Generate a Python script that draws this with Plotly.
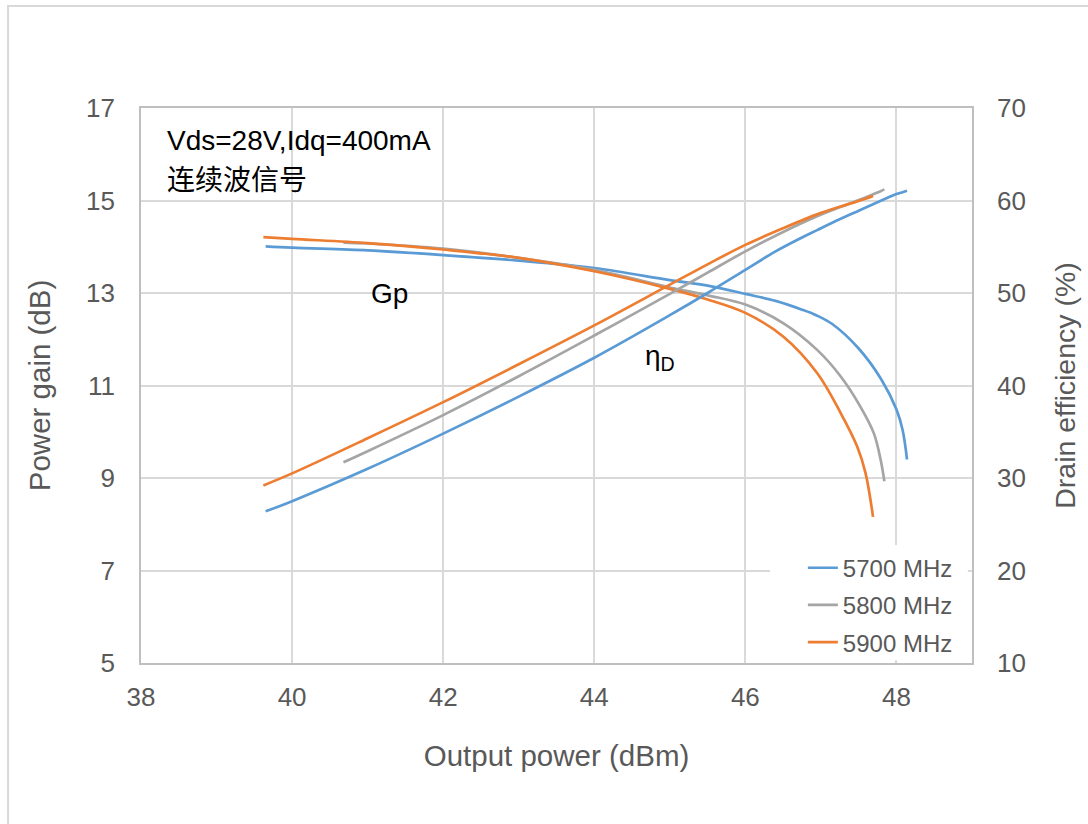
import plotly.graph_objects as go

# ---- data ----
series_names = ["5700 MHz", "5800 MHz", "5900 MHz"]

x_5700 = [39.65, 40.0, 41.0, 42.0, 43.0, 44.0, 45.0, 45.5, 46.0, 46.4, 46.75, 46.95, 47.15, 47.5, 47.8, 48.0, 48.08, 48.14]
gain_5700 = [14.01, 13.98, 13.92, 13.82, 13.70, 13.54, 13.28, 13.16, 12.98, 12.83, 12.64, 12.51, 12.33, 11.80, 11.13, 10.48, 10.05, 9.40]
eff_5700 = [26.4, 27.5, 31.0, 34.8, 38.8, 43.0, 47.6, 50.0, 52.5, 54.5, 56.0, 56.8, 57.6, 58.9, 60.0, 60.7, 60.9, 61.05]

x_5800 = [40.68, 41.0, 42.0, 43.0, 44.0, 45.0, 45.5, 46.0, 46.5, 46.95, 47.26, 47.52, 47.7, 47.79, 47.84]
gain_5800 = [14.09, 14.07, 13.96, 13.76, 13.50, 13.12, 12.95, 12.75, 12.35, 11.77, 11.20, 10.55, 9.97, 9.40, 8.93]
eff_5800 = [31.7, 32.9, 36.8, 41.0, 45.4, 49.9, 52.2, 54.5, 56.6, 58.3, 59.3, 60.1, 60.7, 61.0, 61.2]

x_5900 = [39.62, 40.0, 41.0, 42.0, 43.0, 44.0, 45.0, 45.5, 46.0, 46.5, 46.95, 47.26, 47.48, 47.59, 47.69]
gain_5900 = [14.21, 14.17, 14.08, 13.94, 13.76, 13.47, 13.09, 12.86, 12.57, 12.06, 11.27, 10.41, 9.68, 9.11, 8.16]
eff_5900 = [29.2, 30.5, 34.3, 38.2, 42.3, 46.5, 50.9, 53.1, 55.2, 57.0, 58.5, 59.35, 59.9, 60.2, 60.5]

x_ticks = [38, 40, 42, 44, 46, 48]
gain_ticks = [5, 7, 9, 11, 13, 15, 17]
eff_ticks = [10, 20, 30, 40, 50, 60, 70]

colors = ["#5B9BD5", "#A5A5A5", "#ED7D31"]
FONT = "Liberation Sans, Arial, Noto Sans CJK SC, sans-serif"
TXT = "#595959"
GRID = "#D9D9D9"

fig = go.Figure()
xs = [x_5700, x_5800, x_5900]
gains = [gain_5700, gain_5800, gain_5900]
effs = [eff_5700, eff_5800, eff_5900]
for name, c, x, g, e in zip(series_names, colors, xs, gains, effs):
    fig.add_trace(go.Scatter(x=x, y=g, mode="lines", name=name, legendgroup=name,
                             line=dict(color=c, width=2.7, shape="spline", smoothing=1.0),
                             yaxis="y", showlegend=True))
    fig.add_trace(go.Scatter(x=x, y=e, mode="lines", name=name, legendgroup=name,
                             line=dict(color=c, width=2.7, shape="spline", smoothing=1.0),
                             yaxis="y2", showlegend=False))

fig.update_layout(
    width=1088, height=824,
    margin=dict(l=141, r=116, t=108, b=161),
    paper_bgcolor="white", plot_bgcolor="white",
    font=dict(family=FONT, color=TXT, size=26),
    xaxis=dict(range=[38, 49], tickvals=x_ticks, showgrid=True, gridcolor=GRID, gridwidth=1.8,
               showline=True, linecolor="#BFBFBF", linewidth=1.8, mirror=True,
               zeroline=False, ticks="", ticklabelstandoff=10,
               tickfont=dict(size=26, color=TXT),
               title=dict(text="Output power (dBm)", font=dict(size=29.5, color=TXT), standoff=34)),
    yaxis=dict(range=[5, 17], tickvals=gain_ticks, showgrid=True, gridcolor=GRID, gridwidth=1.8,
               showline=True, linecolor="#BFBFBF", linewidth=1.8, mirror=True,
               zeroline=False, ticks="", ticklabelstandoff=19,
               tickfont=dict(size=26, color=TXT),
               title=dict(text="Power gain (dB)", font=dict(size=29.5, color=TXT), standoff=27)),
    yaxis2=dict(range=[10, 70], tickvals=eff_ticks, overlaying="y", side="right",
                showgrid=False, zeroline=False, showline=False, ticks="", ticklabelstandoff=24,
                tickfont=dict(size=26, color=TXT),
                title=dict(text="Drain efficiency (%)", font=dict(size=28.5, color=TXT), standoff=30)),
    legend=dict(x=0.983, xanchor="right", y=-0.003, yanchor="bottom",
                bgcolor="rgba(255,255,255,0)", font=dict(size=24, color=TXT), tracegroupgap=3,
                borderwidth=0),
    showlegend=True,
)

# outer chart frame
fig.add_shape(type="rect", xref="paper", yref="paper",
              x0=-0.160, x1=1.3, y0=-0.5, y1=1.184,
              line=dict(color="#D9D9D9", width=2), fillcolor="rgba(0,0,0,0)", layer="below")
# white legend background box
fig.add_shape(type="rect", xref="paper", yref="paper",
              x0=0.757, x1=0.995, y0=0.005, y1=0.2126,
              line=dict(width=0), fillcolor="white", layer="above")

ann = dict(showarrow=False, font=dict(family=FONT, size=28, color="black"))
fig.add_annotation(x=0.0289, xref="paper", y=17 - 0.7, yref="y", text="Vds=28V,Idq=400mA",
                   xanchor="left", yanchor="middle", **ann)
fig.add_annotation(x=0.0289, xref="paper", y=17 - 1.57, yref="y", text="连续波信号",
                   xanchor="left", yanchor="middle", **ann)
fig.add_annotation(x=41.02, xref="x", y=13.0, yref="y", text="Gp",
                   xanchor="left", yanchor="middle", **ann)
fig.add_annotation(x=44.65, xref="x", y=11.6, yref="y", text="η<sub>D</sub>",
                   xanchor="left", yanchor="middle", **ann)

fig.write_html("out.html", config={"displayModeBar": False},
               post_script="document.body.style.margin='0';")
